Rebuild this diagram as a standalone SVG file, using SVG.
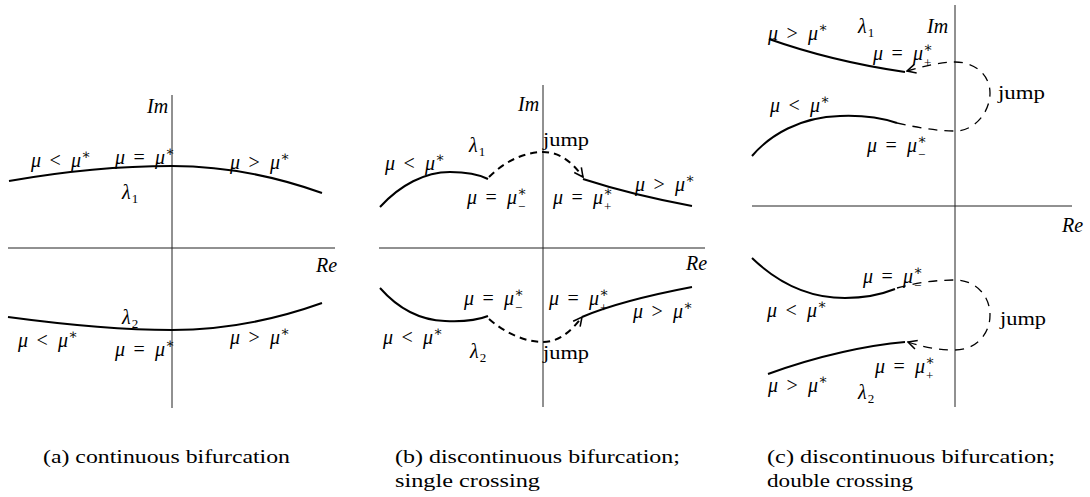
<svg xmlns="http://www.w3.org/2000/svg" width="1090" height="497" viewBox="0 0 1090 497">
<style>
.ax{stroke:#222;stroke-width:1;fill:none}
.cv{stroke:#000;stroke-width:2;fill:none}
.db{stroke:#000;stroke-width:2;fill:none;stroke-dasharray:7 5}
.dc{stroke:#000;stroke-width:1.3;fill:none;stroke-dasharray:9 7}
text{font-family:'Liberation Serif','Times New Roman','DejaVu Serif',serif;fill:#000}
.m{font-size:20px;font-style:italic}
.r{font-style:normal}
.s{font-size:13px;font-style:normal}
.st{font-size:14px;font-style:normal}
.t{font-size:19px}
.cap{font-size:18px}
</style>
<defs>
<marker id="chev" viewBox="0 0 10 10" refX="9" refY="5" markerWidth="11" markerHeight="11" markerUnits="userSpaceOnUse" orient="auto"><path d="M1,1 L9,5 L1,9" fill="none" stroke="#000" stroke-width="1.4"/></marker>
</defs>

<g id="panel-a">
  <g id="a-axes">
    <line class="ax" x1="8" y1="248" x2="335" y2="248"/>
    <line class="ax" x1="172" y1="95" x2="172" y2="408"/>
    <text class="m" x="147" y="113">Im</text>
    <text class="m" x="316" y="272">Re</text>
  </g>
  <g id="a-lambda1">
    <path class="cv" d="M9,181 C60,172 120,166 172,166 C230,166 280,178 322,193"/>
    <text class="m" x="122" y="199">λ<tspan class="s" dx="1" dy="4">1</tspan></text>
    <g transform="translate(31,167)"><text class="m"><tspan x="0">μ</tspan><tspan class="r" x="18.5">&lt;</tspan><tspan x="40">μ</tspan><tspan class="st" x="50.5" y="-8">∗</tspan></text></g>
    <g transform="translate(115,164)"><text class="m"><tspan x="0">μ</tspan><tspan class="r" x="18.5">=</tspan><tspan x="40">μ</tspan><tspan class="st" x="50.5" y="-8">∗</tspan></text></g>
    <g transform="translate(230,169)"><text class="m"><tspan x="0">μ</tspan><tspan class="r" x="18.5">&gt;</tspan><tspan x="40">μ</tspan><tspan class="st" x="50.5" y="-8">∗</tspan></text></g>
  </g>
  <g id="a-lambda2">
    <path class="cv" d="M8,317 C60,324 120,330 172,330 C230,330 280,318 322,303"/>
    <text class="m" x="122" y="324">λ<tspan class="s" dx="1" dy="4">2</tspan></text>
    <g transform="translate(18,347)"><text class="m"><tspan x="0">μ</tspan><tspan class="r" x="18.5">&lt;</tspan><tspan x="40">μ</tspan><tspan class="st" x="50.5" y="-8">∗</tspan></text></g>
    <g transform="translate(115,356)"><text class="m"><tspan x="0">μ</tspan><tspan class="r" x="18.5">=</tspan><tspan x="40">μ</tspan><tspan class="st" x="50.5" y="-8">∗</tspan></text></g>
    <g transform="translate(230,344)"><text class="m"><tspan x="0">μ</tspan><tspan class="r" x="18.5">&gt;</tspan><tspan x="40">μ</tspan><tspan class="st" x="50.5" y="-8">∗</tspan></text></g>
  </g>
  <text class="cap" x="43" y="463" textLength="247" lengthAdjust="spacingAndGlyphs">(a) continuous bifurcation</text>
</g>

<g id="panel-b">
  <g id="b-axes">
    <line class="ax" x1="379" y1="248" x2="705" y2="248"/>
    <line class="ax" x1="543" y1="85" x2="543" y2="407"/>
    <text class="m" x="518" y="111">Im</text>
    <text class="m" x="686" y="270">Re</text>
  </g>
  <g id="b-lambda1">
    <path class="cv" d="M380,207 C400,185 425,172 450,172 C470,172 480,175 488,179"/>
    <path class="cv" d="M583,179 C620,191 660,200 692,206"/>
    <text class="m" x="469" y="152">λ<tspan class="s" dx="1" dy="4">1</tspan></text>
    <text class="t" x="543" y="146" textLength="46" lengthAdjust="spacingAndGlyphs">jump</text>
    <g transform="translate(385,170)"><text class="m"><tspan x="0">μ</tspan><tspan class="r" x="18.5">&lt;</tspan><tspan x="40">μ</tspan><tspan class="st" x="50.5" y="-8">∗</tspan></text></g>
    <g transform="translate(467,204)"><text class="m"><tspan x="0">μ</tspan><tspan class="r" x="18.5">=</tspan><tspan x="40">μ</tspan><tspan class="st" x="50.5" y="-8">∗</tspan><tspan class="s" x="51" y="7">−</tspan></text></g>
    <g transform="translate(553,204)"><text class="m"><tspan x="0">μ</tspan><tspan class="r" x="18.5">=</tspan><tspan x="40">μ</tspan><tspan class="st" x="50.5" y="-8">∗</tspan><tspan class="s" x="51" y="7">+</tspan></text></g>
    <g transform="translate(635,191)"><text class="m"><tspan x="0">μ</tspan><tspan class="r" x="18.5">&gt;</tspan><tspan x="40">μ</tspan><tspan class="st" x="50.5" y="-8">∗</tspan></text></g>
  </g>
  <g id="b-lambda2">
    <path class="cv" d="M380,288 C395,305 415,320 445,321 C465,322 478,320 488,316"/>
    <path class="cv" d="M582,317 C610,305 650,295 692,287"/>
    <text class="m" x="470" y="358">λ<tspan class="s" dx="1" dy="4">2</tspan></text>
    <text class="t" x="543" y="359" textLength="46" lengthAdjust="spacingAndGlyphs">jump</text>
    <g transform="translate(464,305)"><text class="m"><tspan x="0">μ</tspan><tspan class="r" x="18.5">=</tspan><tspan x="40">μ</tspan><tspan class="st" x="50.5" y="-8">∗</tspan><tspan class="s" x="51" y="7">−</tspan></text></g>
    <g transform="translate(549,305)"><text class="m"><tspan x="0">μ</tspan><tspan class="r" x="18.5">=</tspan><tspan x="40">μ</tspan><tspan class="st" x="50.5" y="-8">∗</tspan><tspan class="s" x="51" y="7">+</tspan></text></g>
    <g transform="translate(633,318)"><text class="m"><tspan x="0">μ</tspan><tspan class="r" x="18.5">&gt;</tspan><tspan x="40">μ</tspan><tspan class="st" x="50.5" y="-8">∗</tspan></text></g>
    <g transform="translate(383,344)"><text class="m"><tspan x="0">μ</tspan><tspan class="r" x="18.5">&lt;</tspan><tspan x="40">μ</tspan><tspan class="st" x="50.5" y="-8">∗</tspan></text></g>
  </g>
  <text class="cap" x="395" y="463" textLength="285" lengthAdjust="spacingAndGlyphs">(b) discontinuous bifurcation;</text>
  <text class="cap" x="395" y="487" textLength="145" lengthAdjust="spacingAndGlyphs">single crossing</text>
</g>

<g id="panel-c">
  <g id="c-axes">
    <line class="ax" x1="752" y1="206" x2="1072" y2="206"/>
    <line class="ax" x1="955" y1="5" x2="955" y2="407"/>
    <text class="m" x="927" y="33">Im</text>
    <text class="m" x="1062" y="232">Re</text>
  </g>
  <g id="c-lambda1">
    <path class="cv" d="M769,39 C800,50 850,64 905,72"/>
    <path class="cv" d="M752,156 C770,135 800,117 840,116 C865,115 882,118 897,123"/>
    <text class="m" x="858" y="33">λ<tspan class="s" dx="1" dy="4">1</tspan></text>
    <text class="t" x="998" y="99" textLength="47" lengthAdjust="spacingAndGlyphs">jump</text>
    <g transform="translate(768,40)"><text class="m"><tspan x="0">μ</tspan><tspan class="r" x="18.5">&gt;</tspan><tspan x="40">μ</tspan><tspan class="st" x="50.5" y="-8">∗</tspan></text></g>
    <g transform="translate(873,60)"><text class="m"><tspan x="0">μ</tspan><tspan class="r" x="18.5">=</tspan><tspan x="40">μ</tspan><tspan class="st" x="50.5" y="-8">∗</tspan><tspan class="s" x="51" y="7">+</tspan></text></g>
    <g transform="translate(770,112)"><text class="m"><tspan x="0">μ</tspan><tspan class="r" x="18.5">&lt;</tspan><tspan x="40">μ</tspan><tspan class="st" x="50.5" y="-8">∗</tspan></text></g>
    <g transform="translate(867,152)"><text class="m"><tspan x="0">μ</tspan><tspan class="r" x="18.5">=</tspan><tspan x="40">μ</tspan><tspan class="st" x="50.5" y="-8">∗</tspan><tspan class="s" x="51" y="7">−</tspan></text></g>
  </g>
  <g id="c-lambda2">
    <path class="cv" d="M752,258 C780,285 810,298 845,298 C870,298 885,293 895,289"/>
    <path class="cv" d="M905,342 C870,345 820,355 768,374"/>
    <text class="m" x="858" y="399">λ<tspan class="s" dx="1" dy="4">2</tspan></text>
    <text class="t" x="1000" y="325" textLength="46" lengthAdjust="spacingAndGlyphs">jump</text>
    <g transform="translate(863,283)"><text class="m"><tspan x="0">μ</tspan><tspan class="r" x="18.5">=</tspan><tspan x="40">μ</tspan><tspan class="st" x="50.5" y="-8">∗</tspan><tspan class="s" x="51" y="7">−</tspan></text></g>
    <g transform="translate(767,317)"><text class="m"><tspan x="0">μ</tspan><tspan class="r" x="18.5">&lt;</tspan><tspan x="40">μ</tspan><tspan class="st" x="50.5" y="-8">∗</tspan></text></g>
    <g transform="translate(875,373)"><text class="m"><tspan x="0">μ</tspan><tspan class="r" x="18.5">=</tspan><tspan x="40">μ</tspan><tspan class="st" x="50.5" y="-8">∗</tspan><tspan class="s" x="51" y="7">+</tspan></text></g>
    <g transform="translate(768,392)"><text class="m"><tspan x="0">μ</tspan><tspan class="r" x="18.5">&gt;</tspan><tspan x="40">μ</tspan><tspan class="st" x="50.5" y="-8">∗</tspan></text></g>
  </g>
  <text class="cap" x="767" y="463" textLength="288" lengthAdjust="spacingAndGlyphs">(c) discontinuous bifurcation;</text>
  <text class="cap" x="767" y="487" textLength="146" lengthAdjust="spacingAndGlyphs">double crossing</text>
</g>

<g id="connectors">
  <path class="db" d="M489,177 C505,161 525,152 543,152 C560,152 572,162 583,177" marker-end="url(#chev)"/>
  <path class="db" d="M489,319 C505,333 525,342 543,342 C560,342 572,330 582,317" marker-end="url(#chev)"/>
  <path class="dc" d="M897,123 C915,127 935,131 955,131 C975,131 990,112 990,93 C990,75 975,62 955,62 C940,62 925,66 907,71" marker-end="url(#chev)"/>
  <path class="dc" d="M897,288 C915,283 935,280 955,280 C975,280 990,295 990,315 C990,335 975,350 955,350 C935,350 920,346 908,342" marker-end="url(#chev)"/>
</g>
</svg>
